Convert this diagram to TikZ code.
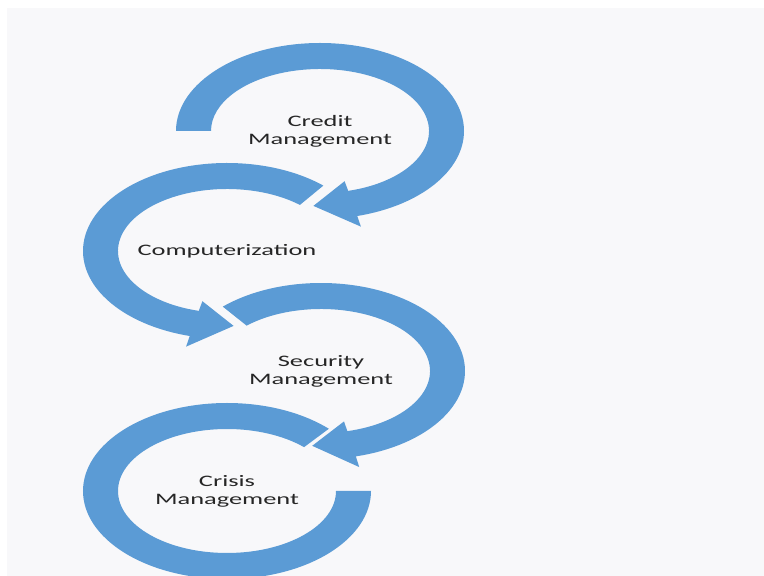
\documentclass[tikz,border=0pt]{standalone}
\usepackage{fontspec}
\setmainfont{Carlito}
\usepackage{tikz}
\usetikzlibrary{calc}
\definecolor{AB}{RGB}{91,155,213}
\definecolor{BG}{RGB}{248,248,250}
\definecolor{TX}{RGB}{38,38,38}

% one ring of the cycle: centre, start angle, end of band, tip of head
\newcommand{\ringarrow}[4]{%
  \begin{scope}[shift={(#1)}]
    \fill[ring] (#2:144pt and 88pt)
      arc[start angle=#2, end angle=#3, x radius=144pt, y radius=88pt]
      -- (#3:158pt and 99pt) -- (#4:126pt and 75pt) -- (#3:95pt and 52pt)
      -- (#3:109pt and 62pt)
      arc[start angle=#3, end angle=#2, x radius=109pt, y radius=62pt]
      -- cycle;
  \end{scope}}

\begin{document}
\begin{tikzpicture}[x=1pt, y=1pt,
  ring/.style={fill=AB},
  lbl/.style={font=\fontsize{16}{18}\selectfont, text=TX,
              align=center, xscale=1.65}
]
\useasboundingbox (0,0) rectangle (764,576);
\clip (0,0) rectangle (764,576);
\fill[white] (0,0) rectangle (764,576);
\fill[BG] (7,0) rectangle (764,568);

% ring centres
\coordinate (c1) at (320,445);
\coordinate (c2) at (227,325);
\coordinate (c3) at (321,205);
\coordinate (c4) at (227,85);

% arrows
\ringarrow{c1}{180}{-75}{-93}
\ringarrow{c2}{48}{255}{273}
\ringarrow{c3}{133}{-76}{-94}

% last ring has no head
\begin{scope}[shift={(c4)}]
  \fill[ring] (45:144pt and 88pt)
    arc[start angle=45, end angle=360, x radius=144pt, y radius=88pt]
    -- (0:109pt and 62pt)
    arc[start angle=360, end angle=45, x radius=109pt, y radius=62pt]
    -- cycle;
\end{scope}

% labels
\node[lbl] (credit) at (c1) {Credit\\Management};
\node[lbl] (comp) at (c2) {Computerization};
\node[lbl] (secur) at (c3) {Security\\Management};
\node[lbl] (crisis) at (c4) {Crisis\\Management};
\end{tikzpicture}
\end{document}
